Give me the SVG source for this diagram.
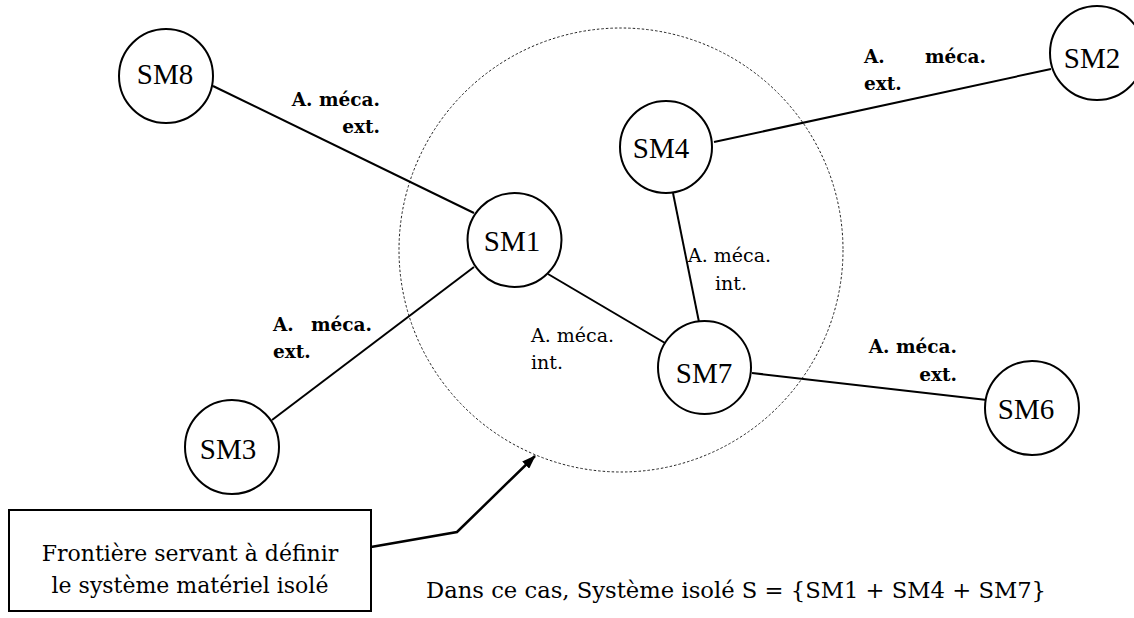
<svg xmlns="http://www.w3.org/2000/svg" width="1134" height="618" viewBox="0 0 1134 618">
<style>
.node{fill:#fff;stroke:#000;stroke-width:2}
.nl{font-family:"Liberation Serif","DejaVu Serif",serif;font-size:29px;fill:#000;text-anchor:middle}
.ext{font-family:"DejaVu Serif","Liberation Serif",serif;font-size:18.5px;font-weight:bold;fill:#000}
.int{font-family:"DejaVu Serif","Liberation Serif",serif;font-size:19px;fill:#000}
.box{font-family:"DejaVu Serif","Liberation Serif",serif;font-size:22px;fill:#000;text-anchor:middle}
.edge{stroke:#000;stroke-width:2;fill:none}
</style>
<defs>
<marker id="ah" markerWidth="14" markerHeight="10" refX="13" refY="5" orient="auto" markerUnits="userSpaceOnUse" viewBox="0 0 14 10">
<path d="M0,0 L14,5 L0,10 z" fill="#000"/>
</marker>
</defs>
<rect width="1134" height="618" fill="#fff"/>
<g id="boundary">
<circle cx="621" cy="250" r="222" fill="none" stroke="#222" stroke-width="1" stroke-dasharray="2.5 2"/>
</g>
<g id="connectors">
<line class="edge" x1="213" y1="86" x2="474" y2="213"/>
<line class="edge" x1="714" y1="142" x2="1051" y2="69"/>
<line class="edge" x1="673" y1="193" x2="699" y2="322"/>
<line class="edge" x1="548" y1="274" x2="665" y2="343"/>
<line class="edge" x1="474" y1="267" x2="272" y2="420"/>
<line class="edge" x1="752" y1="373" x2="987" y2="400"/>
<polyline points="371,547 457,532 535,456" fill="none" stroke="#000" stroke-width="2.5" marker-end="url(#ah)"/>
</g>
<g id="labels">
<text class="ext" text-anchor="end" x="380" y="106">A. méca.</text>
<text class="ext" text-anchor="end" x="380" y="133">ext.</text>
<text class="ext" x="864" y="63">A.</text>
<text class="ext" text-anchor="end" x="986" y="63">méca.</text>
<text class="ext" x="864" y="90">ext.</text>
<text class="ext" x="273" y="331">A.</text>
<text class="ext" text-anchor="end" x="372" y="331">méca.</text>
<text class="ext" x="273" y="358">ext.</text>
<text class="ext" text-anchor="end" x="957" y="353">A. méca.</text>
<text class="ext" text-anchor="end" x="957" y="381">ext.</text>
<text class="int" x="688" y="262">A. méca.</text>
<text class="int" text-anchor="middle" x="731" y="290">int.</text>
<text class="int" x="531" y="342">A. méca.</text>
<text class="int" x="531" y="369">int.</text>
</g>
<g id="SM8"><circle class="node" cx="166" cy="76" r="47"/><text class="nl" x="165" y="84">SM8</text></g>
<g id="SM2"><circle class="node" cx="1097" cy="53" r="47"/><text class="nl" x="1092" y="68">SM2</text></g>
<g id="SM4"><circle class="node" cx="666" cy="147" r="46"/><text class="nl" x="661" y="158">SM4</text></g>
<g id="SM1"><circle class="node" cx="514.5" cy="240" r="47"/><text class="nl" x="512" y="251">SM1</text></g>
<g id="SM7"><circle class="node" cx="704.5" cy="367.5" r="46.5"/><text class="nl" x="704" y="383">SM7</text></g>
<g id="SM6"><circle class="node" cx="1032" cy="408" r="47"/><text class="nl" x="1026" y="419">SM6</text></g>
<g id="SM3"><circle class="node" cx="232" cy="447" r="47"/><text class="nl" x="228" y="459">SM3</text></g>
<g id="note">
<rect x="9" y="510" width="362" height="101" fill="#fff" stroke="#000" stroke-width="2"/>
<text class="box" x="190" y="561">Frontière servant à définir</text>
<text class="box" x="190" y="593">le système matériel isolé</text>
</g>
<g id="caption">
<text x="426" y="598" font-family="DejaVu Serif, Liberation Serif, serif" font-size="23" fill="#000" textLength="620" lengthAdjust="spacingAndGlyphs">Dans ce cas, Système isolé S = {SM1 + SM4 + SM7}</text>
</g>
</svg>
